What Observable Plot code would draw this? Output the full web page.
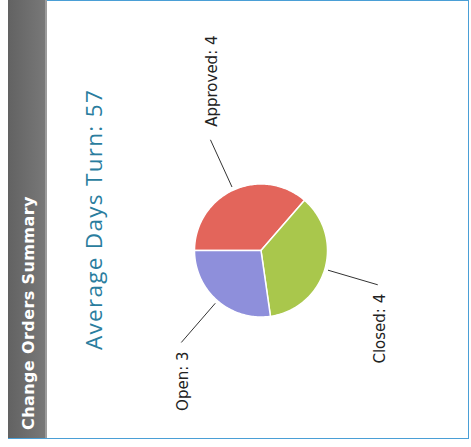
<!DOCTYPE html>
<html><head><meta charset="utf-8">
<script src="https://cdn.jsdelivr.net/npm/d3@7"></script>
<script src="https://cdn.jsdelivr.net/npm/@observablehq/plot@0.6"></script>
<style>
html,body{margin:0;padding:0;background:#fff;width:471px;height:447px;overflow:hidden}
#rot{position:absolute;left:0;top:0;width:447px;height:471px;transform-origin:0 0;transform:translate(0,447px) rotate(-90deg);}
#panel{position:absolute;left:8px;top:8px;width:439px;height:461px;box-sizing:border-box;border:1.5px solid #4a9fd6;}
#header{position:absolute;left:9px;top:8px;width:438px;height:39px;background:linear-gradient(#626262,#787878);border-bottom:2px solid #9c9c9c;color:#fff;font-family:"DejaVu Sans";font-weight:bold;font-size:16px;line-height:42px;padding-left:8px;box-sizing:border-box;letter-spacing:0.4px;white-space:nowrap}
#title{position:absolute;left:8px;width:439px;top:79px;text-align:center;font-family:"Open Sans";font-size:22.5px;line-height:30px;color:#2a7d9e;letter-spacing:1.3px;white-space:nowrap}
#chart{position:absolute;left:0;top:0}
</style></head>
<body><div id="rot"><div id="panel"></div><div id="header"></div><div id="title"></div><div id="chart"></div></div>
<script>
const headerText = "Change Orders Summary";
const titleText = "Average Days Turn: 57";
const categories = ["Approved", "Closed", "Open"];
const counts = [4, 4, 3];
const colors = ["#e3655b", "#a9c74c", "#8e8fdb"];

document.getElementById("header").textContent = headerText;
document.getElementById("title").textContent = titleText;

const W = 447, H = 471, CX = 196, CY = 260.5, R = 66.5;

const slices = d3.pie().sort(null).value(d => d.value)(categories.map((name, i) => ({name, value: counts[i]})));

const polys = [];
for (const s of slices) {
  const n = Math.max(2, Math.ceil((s.endAngle - s.startAngle) / 0.02));
  polys.push({name: s.data.name, x: 0, y: 0});
  for (let k = 0; k <= n; k++) {
    const a = s.startAngle + (s.endAngle - s.startAngle) * k / n;
    polys.push({name: s.data.name, x: Math.sin(a), y: -Math.cos(a)});
  }
  polys.push({name: s.data.name, x: 0, y: 0});
}

const leaders = slices.map(s => {
  const a = (s.startAngle + s.endAngle) / 2;
  return {name: s.data.name, value: s.data.value, sx: Math.sin(a), sy: -Math.cos(a)};
});

const chart = Plot.plot({
  width: W, height: H, margin: 0,
  style: {background: "transparent", overflow: "visible"},
  x: {domain: [-1, 1], range: [CX - R, CX + R], axis: null},
  y: {domain: [-1, 1], range: [CY - R, CY + R], axis: null},
  color: {domain: categories, range: colors},
  marks: [
    Plot.line(polys, {x: "x", y: "y", z: "name", fill: "name", stroke: "white", strokeWidth: 1.5, curve: "linear"}),
    Plot.link(leaders, {x1: d => d.sx * 1.05, y1: d => d.sy * 1.05, x2: d => d.sx * 1.83, y2: d => d.sy * 1.83, stroke: "#333", strokeWidth: 1}),
    Plot.text(leaders.filter(d => d.sx >= 0), {x: d => d.sx * 1.83, y: d => d.sy * 1.83, text: d => `${d.name}: ${d.value}`, textAnchor: "start", dx: 13, dy: 2, fontSize: 15, fontFamily: "DejaVu Sans", fill: "#222"}),
    Plot.text(leaders.filter(d => d.sx < 0), {x: d => d.sx * 1.83, y: d => d.sy * 1.83, text: d => `${d.name}: ${d.value}`, textAnchor: "end", dx: -9, dy: 2, fontSize: 15, fontFamily: "DejaVu Sans", fill: "#222"})
  ]
});
document.getElementById("chart").appendChild(chart);
</script>
</body></html>
